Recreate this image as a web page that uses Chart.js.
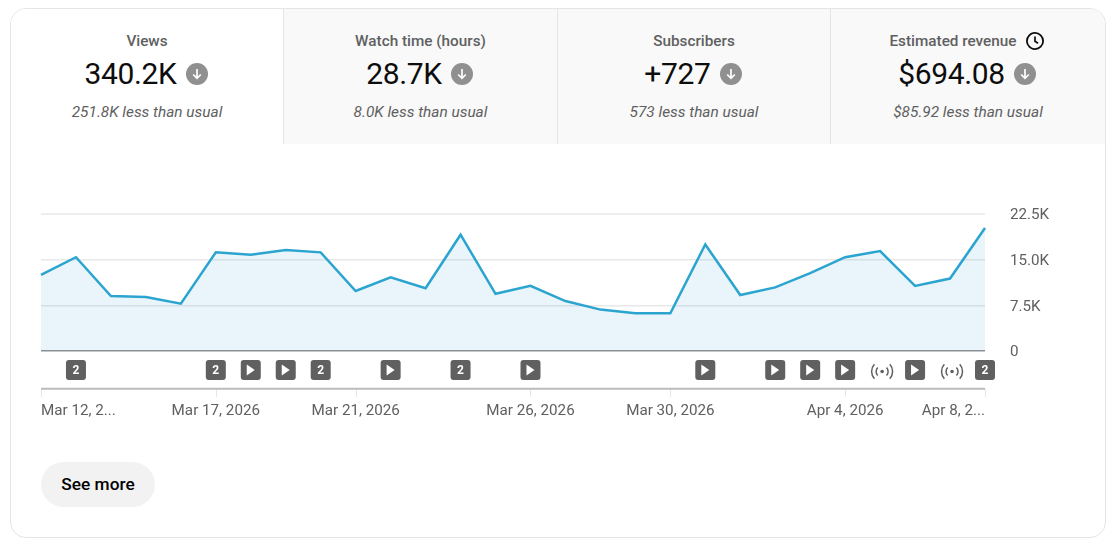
<!DOCTYPE html>
<html>
<head>
<meta charset="utf-8">
<title>Channel overview</title>
<script src="https://cdn.jsdelivr.net/npm/chart.js@4"></script>
<style>
  html, body { margin: 0; padding: 0; background: #fff; }
  body { width: 1116px; height: 548px; overflow: hidden; position: relative; font-family: Roboto, sans-serif; }
  #card { position: absolute; left: 10px; top: 8px; width: 1094px; height: 528px; border: 1px solid #e5e5e5; border-radius: 16px; overflow: hidden; }
  #tiles { display: flex; height: 135px; position: relative; z-index: 1; }
  .tile { width: 273px; height: 135px; background: #f9f9f9; border-left: 1px solid #e5e5e5; text-align: center; position: relative; color: #606060; flex: none; }
  .tile.first { width: 272px; background: #fff; border-left: 0; }
  .tile.third { width: 272px; }
  .tile.last { width: 274px; }
  .tile .title { position: absolute; left: 0; right: 0; top: 23px; line-height: 18px; font-size: 15.3px; font-weight: 500; }
  .tile .title svg { position: relative; top: 5px; margin-left: 8px; margin-right: 2px; margin-top: -6px; }
  .tile .value { position: absolute; left: 0; right: 0; top: 47px; line-height: 36px; font-size: 30px; letter-spacing: -0.35px; color: #0d0d0d; }
  .tile .value svg { vertical-align: -3px; margin-left: 2px; margin-right: 2px; position: relative; top: -2px; }
  .tile .note { position: absolute; left: 0; right: 0; top: 93px; line-height: 20px; font-size: 15.4px; font-style: italic; }
  #chartBox { position: absolute; left: -11px; top: -9px; width: 1116px; height: 548px; }
  #more { position: absolute; left: 30px; top: 453px; width: 114px; height: 45px; line-height: 45px; border-radius: 23px; background: #f2f2f2; color: #000; font-size: 17.3px; font-weight: 500; text-align: center; }
</style>
</head>
<body>
<div id="card">
  <div id="chartBox"><canvas id="myChart" width="1116" height="548"></canvas></div>
  <div id="tiles"></div>
  <div id="more">See more</div>
</div>
<script>
var categories = ["Mar 12, 2026", "Mar 13, 2026", "Mar 14, 2026", "Mar 15, 2026", "Mar 16, 2026", "Mar 17, 2026", "Mar 18, 2026",
  "Mar 19, 2026", "Mar 20, 2026", "Mar 21, 2026", "Mar 22, 2026", "Mar 23, 2026", "Mar 24, 2026", "Mar 25, 2026", "Mar 26, 2026",
  "Mar 27, 2026", "Mar 28, 2026", "Mar 29, 2026", "Mar 30, 2026", "Mar 31, 2026", "Apr 1, 2026", "Apr 2, 2026", "Apr 3, 2026",
  "Apr 4, 2026", "Apr 5, 2026", "Apr 6, 2026", "Apr 7, 2026", "Apr 8, 2026"];
var views = [12500, 15400, 9030, 8870, 7770, 16200, 15800, 16600, 16200, 9850, 12100, 10300, 19100, 9400, 10700,
  8200, 6800, 6200, 6200, 17500, 9200, 10450, 12800, 15400, 16400, 10700, 11900, 20200];

var tickIndexes = [0, 5, 9, 14, 18, 23, 27];
var tickTexts = ["Mar 12, 2...", "Mar 17, 2026", "Mar 21, 2026", "Mar 26, 2026", "Mar 30, 2026", "Apr 4, 2026", "Apr 8, 2..."];
var yTicks = { 0: "0", 7500: "7.5K", 15000: "15.0K", 22500: "22.5K" };

// icons under the line
var twoIcons = [1, 5, 8, 12, 27];
var playIcons = [6, 7, 10, 14, 19, 21, 22, 23, 25];
var liveIcons = [24, 26];

var tileTitles = ["Views", "Watch time (hours)", "Subscribers", "Estimated revenue"];
var tileValues = ["340.2K", "28.7K", "+727", "$694.08"];
var tileNotes = ["251.8K less than usual", "8.0K less than usual", "573 less than usual", "$85.92 less than usual"];
var tileClasses = ["first", "", "third", "last"];

var downIcon = '<svg width="22" height="22" viewBox="0 0 22 22"><circle cx="11" cy="11" r="11" fill="#909090"/>' +
  '<path d="M11 6v9M7.2 11.5l3.8 3.8 3.8-3.8" fill="none" stroke="#fff" stroke-width="1.7"/></svg>';
var clockIcon = '<svg width="20" height="20" viewBox="0 0 20 20"><circle cx="10" cy="10" r="8.1" fill="none" stroke="#0d0d0d" stroke-width="1.8"/>' +
  '<path d="M10 5.5v4.8l3 2" fill="none" stroke="#0d0d0d" stroke-width="1.7"/></svg>';

var tilesHtml = "";
tileTitles.forEach(function (title, i) {
  tilesHtml += '<div class="tile ' + tileClasses[i] + '">' +
    '<div class="title">' + title + (i === 3 ? clockIcon : "") + "</div>" +
    '<div class="value">' + tileValues[i] + " " + downIcon + "</div>" +
    '<div class="note">' + tileNotes[i] + "</div></div>";
});
document.getElementById("tiles").innerHTML = tilesHtml;

var iconRow = {
  id: "iconRow",
  afterDatasetsDraw: function (chart) {
    var ctx = chart.ctx;
    var x = chart.scales.x;
    var rowY = 370;
    var axisY = 388.7;

    ctx.save();
    // the lower axis line with its tick marks
    ctx.strokeStyle = "#e5e5e5";
    ctx.lineWidth = 1;
    tickIndexes.forEach(function (i) {
      var px = Math.round(x.getPixelForValue(i)) + 0.5;
      ctx.beginPath();
      ctx.moveTo(px, axisY);
      ctx.lineTo(px, axisY + 8);
      ctx.stroke();
    });
    ctx.strokeStyle = "#bbbbbb";
    ctx.lineWidth = 2;
    ctx.beginPath();
    ctx.moveTo(chart.chartArea.left, axisY);
    ctx.lineTo(chart.chartArea.right, axisY);
    ctx.stroke();

    function box(px) {
      ctx.fillStyle = "#606060";
      ctx.beginPath();
      ctx.roundRect(px - 10, rowY - 10, 20, 20, 3);
      ctx.fill();
    }
    twoIcons.forEach(function (i) {
      var px = x.getPixelForValue(i);
      box(px);
      ctx.fillStyle = "#fff";
      ctx.font = "bold 12px Roboto";
      ctx.textAlign = "center";
      ctx.textBaseline = "middle";
      ctx.fillText("2", px, rowY + 1);
    });
    playIcons.forEach(function (i) {
      var px = x.getPixelForValue(i);
      box(px);
      ctx.fillStyle = "#fff";
      ctx.beginPath();
      ctx.moveTo(px - 4, rowY - 5.5);
      ctx.lineTo(px + 4, rowY);
      ctx.lineTo(px - 4, rowY + 5.5);
      ctx.closePath();
      ctx.fill();
    });
    liveIcons.forEach(function (i) {
      var px = x.getPixelForValue(i) + 2;
      var py = rowY + 1.5;
      ctx.fillStyle = "#606060";
      ctx.strokeStyle = "#606060";
      ctx.lineWidth = 1.5;
      ctx.beginPath();
      ctx.arc(px, py, 1.8, 0, Math.PI * 2);
      ctx.fill();
      [6, 10.5].forEach(function (r) {
        ctx.beginPath();
        ctx.arc(px, py, r, -0.75, 0.75);
        ctx.stroke();
        ctx.beginPath();
        ctx.arc(px, py, r, Math.PI - 0.75, Math.PI + 0.75);
        ctx.stroke();
      });
    });
    ctx.restore();
  },
};

Chart.defaults.font.family = "Roboto";

new Chart(document.getElementById("myChart"), {
  type: "line",
  data: {
    labels: categories,
    datasets: [
      {
        label: "Views",
        data: views,
        borderColor: "#2ba5cf",
        borderWidth: 2.5,
        backgroundColor: "rgba(43, 155, 210, 0.1)",
        fill: "origin",
        pointRadius: 0,
        tension: 0,
      },
    ],
  },
  plugins: [iconRow],
  options: {
    animation: false,
    responsive: false,
    devicePixelRatio: 1,
    layout: { padding: { left: 41, top: 214, right: 0, bottom: 0 } },
    plugins: {
      legend: { display: false },
      tooltip: { enabled: false },
    },
    scales: {
      x: {
        offset: false,
        grid: { display: false },
        border: { display: false },
        afterFit: function (scale) {
          scale.height = 197;
          scale.paddingLeft = 0;
          scale.paddingRight = 0;
        },
        ticks: {
          autoSkip: false,
          maxRotation: 0,
          minRotation: 0,
          align: "inner",
          padding: 43,
          color: "#606060",
          font: { size: 15.2 },
          callback: function (value, index) {
            var pos = tickIndexes.indexOf(index);
            return pos >= 0 ? tickTexts[pos] : "";
          },
        },
      },
      y: {
        position: "right",
        min: 0,
        max: 22500,
        border: { display: false },
        afterFit: function (scale) {
          scale.width = 131;
        },
        grid: {
          drawTicks: false,
          lineWidth: function (c) {
            return c.tick.value === 22500 ? 2 : 1.5;
          },
          color: function (c) {
            if (c.tick.value === 0) return "#909090";
            return c.tick.value === 22500 ? "#eeeeee" : "#e8e8e8";
          },
        },
        ticks: {
          stepSize: 7500,
          padding: 25,
          labelOffset: 1.5,
          color: "#606060",
          crossAlign: "near",
          font: { size: 15.2 },
          callback: function (value) {
            return yTicks[value];
          },
        },
      },
    },
  },
});
</script>
</body>
</html>
